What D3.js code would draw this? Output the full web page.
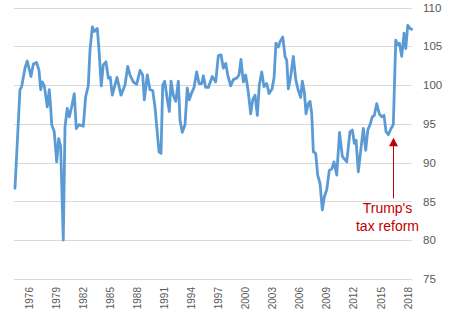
<!DOCTYPE html>
<html>
<head>
<meta charset="utf-8">
<script src="https://cdn.jsdelivr.net/npm/d3@7"></script>
<style>
    body { margin: 0; background: #fff; }
    svg { display: block; font-family: "Liberation Sans", Arial, sans-serif; }
</style>
</head>
<body>
<svg id="chart"></svg>
<script>
// decimal year of each point
const years = [
    1974.45, 1975.00, 1975.19, 1975.56, 1975.81, 1976.22, 1976.48, 1976.85, 1977.11, 1977.30,
    1977.47, 1977.70, 1978.03, 1978.25, 1978.40, 1978.52, 1978.80, 1979.07, 1979.29, 1979.51,
    1979.80, 1979.99, 1980.24, 1980.47, 1980.73, 1981.02, 1981.24, 1981.54, 1982.02, 1982.28,
    1982.57, 1982.76, 1983.02, 1983.24, 1983.57, 1983.76, 1984.01, 1984.23, 1984.53, 1984.79,
    1985.01, 1985.23, 1985.75, 1986.20, 1986.64, 1986.94, 1987.19, 1987.56, 1987.94, 1988.30,
    1988.60, 1988.78, 1989.11, 1989.41, 1989.71, 1989.96, 1990.22, 1990.41, 1990.63, 1990.82,
    1991.04, 1991.33, 1991.55, 1991.74, 1991.99, 1992.26, 1992.55, 1992.73, 1992.99, 1993.29,
    1993.54, 1993.76, 1994.03, 1994.29, 1994.58, 1994.84, 1995.14, 1995.32, 1995.58, 1995.87,
    1996.31, 1996.69, 1996.98, 1997.28, 1997.53, 1997.80, 1998.02, 1998.35, 1998.64, 1999.02,
    1999.27, 1999.49, 1999.75, 2000.01, 2000.30, 2000.57, 2000.79, 2001.05, 2001.30, 2001.52,
    2001.79, 2002.04, 2002.34, 2002.60, 2002.93, 2003.15, 2003.37, 2003.63, 2003.82, 2004.12,
    2004.37, 2004.56, 2004.74, 2005.00, 2005.29, 2005.56, 2005.84, 2006.11, 2006.29, 2006.51,
    2006.70, 2006.95, 2007.14, 2007.33, 2007.51, 2007.77, 2007.99, 2008.25, 2008.50, 2008.73,
    2008.99, 2009.28, 2009.55, 2009.80, 2010.10, 2010.41, 2010.72, 2011.21, 2011.57, 2011.83,
    2012.05, 2012.24, 2012.49, 2012.79, 2013.05, 2013.31, 2013.54, 2013.79, 2014.04, 2014.27,
    2014.53, 2014.82, 2015.09, 2015.34, 2015.56, 2015.82, 2016.12, 2016.37, 2016.64, 2016.86,
    2017.04, 2017.30, 2017.56, 2017.75, 2017.97, 2018.22, 2018.41
];

const indexValues = [
    86.7, 99.4, 99.8, 102.2, 103.1, 101.1, 102.7, 102.9, 101.9, 99.4,
    100.4, 99.9, 97.2, 99.4, 97.2, 94.9, 94.0, 90.1, 93.1, 92.1,
    80.0, 94.6, 97.0, 95.9, 97.2, 98.9, 94.4, 94.9, 94.7, 98.5,
    99.9, 104.5, 107.5, 106.9, 107.3, 104.5, 99.9, 102.6, 103.0, 100.9,
    101.0, 98.7, 101.0, 98.7, 100.0, 102.4, 101.3, 100.4, 100.1, 101.9,
    101.3, 98.1, 101.3, 99.4, 99.3, 97.2, 93.8, 91.4, 91.2, 100.0,
    100.5, 98.1, 96.6, 100.5, 98.7, 97.9, 100.5, 95.5, 93.9, 94.9,
    99.6, 98.1, 99.0, 99.7, 101.7, 100.2, 100.2, 101.2, 99.7, 99.7,
    101.1, 100.4, 103.8, 103.9, 102.2, 102.8, 101.3, 99.9, 100.7, 100.9,
    101.3, 103.3, 100.4, 101.3, 99.1, 96.3, 98.1, 98.7, 96.1, 100.0,
    101.7, 99.8, 100.2, 98.9, 99.5, 100.9, 105.4, 104.9, 105.6, 106.2,
    103.7, 103.2, 99.5, 101.1, 103.7, 100.7, 99.3, 98.4, 100.5, 99.1,
    96.3, 97.6, 97.9, 96.3, 91.4, 91.2, 88.4, 87.3, 83.9, 85.6,
    86.5, 89.0, 89.2, 90.1, 88.4, 93.9, 90.8, 90.1, 94.0, 94.2,
    92.5, 92.9, 88.8, 91.9, 94.4, 91.6, 94.2, 94.9, 95.9, 96.1,
    97.6, 96.3, 95.9, 96.1, 94.0, 93.6, 94.4, 94.9, 105.8, 105.2,
    105.4, 103.7, 106.7, 104.7, 107.7, 107.3, 107.2
];

const yearTicks = [1976, 1979, 1982, 1985, 1988, 1991, 1994, 1997, 2000, 2003, 2006, 2009, 2012, 2015, 2018];
const valueTicks = [75, 80, 85, 90, 95, 100, 105, 110];

// arrow: year, tip value, tail value
const noteYear = 2016.35;
const noteTip = 93.2;
const noteTail = 85.4;
const noteLines = ["Trump's", "tax reform"];

const width = 453;
const height = 323;
const plotLeft = 14, plotRight = 412, plotTop = 7.5, plotBottom = 279;

const svg = d3.select('#chart')
    .attr('width', width)
    .attr('height', height);

const x = d3.scaleLinear()
    .domain([1974.34, 2018.44])
    .range([plotLeft, plotRight]);

const y = d3.scaleLinear()
    .domain([75, 110])
    .range([plotBottom, plotTop]);

// horizontal gridlines
svg.append('g')
    .selectAll('line')
    .data(valueTicks)
    .join('line')
    .attr('x1', plotLeft)
    .attr('x2', plotRight)
    .attr('y1', (d) => Math.round(y(d)) + 0.5)
    .attr('y2', (d) => Math.round(y(d)) + 0.5)
    .attr('stroke', '#d9d9d9')
    .attr('stroke-width', 1);

// value labels on the right
svg.append('g')
    .selectAll('text')
    .data(valueTicks)
    .join('text')
    .attr('x', 423)
    .attr('y', (d) => y(d))
    .attr('dy', '0.36em')
    .style('font-size', '11.5px')
    .style('fill', '#595959')
    .text((d) => d);

// year labels, rotated
svg.append('g')
    .selectAll('text')
    .data(yearTicks)
    .join('text')
    .attr('transform', (d) => `translate(${x(d)}, ${plotBottom + 8}) rotate(-90)`)
    .attr('text-anchor', 'end')
    .attr('dy', '0.36em')
    .style('font-size', '10px')
    .style('fill', '#595959')
    .text((d) => d);

const line = d3.line()
    .x((d, i) => x(years[i]))
    .y((d) => y(d));

svg.append('path')
    .datum(indexValues)
    .attr('d', line)
    .attr('fill', 'none')
    .attr('stroke', '#5b9bd5')
    .attr('stroke-width', 2.8)
    .attr('stroke-linejoin', 'round')
    .attr('stroke-linecap', 'round');

// annotation arrow
const ax = Math.round(x(noteYear)) + 0.5;
svg.append('line')
    .attr('x1', ax)
    .attr('x2', ax)
    .attr('y1', y(noteTail))
    .attr('y2', y(noteTip) + 7)
    .attr('stroke', '#c00000')
    .attr('stroke-width', 1);

svg.append('path')
    .attr('d', `M${ax},${y(noteTip)} L${ax - 4.5},${y(noteTip) + 8.5} L${ax + 4.5},${y(noteTip) + 8.5} Z`)
    .attr('fill', '#c00000');

svg.append('g')
    .selectAll('text')
    .data(noteLines)
    .join('text')
    .attr('x', ax - 6)
    .attr('y', (d, i) => y(noteTail) + 15 + i * 18)
    .attr('text-anchor', 'middle')
    .style('font-size', '14px')
    .style('fill', '#c00000')
    .text((d) => d);
</script>
</body>
</html>
